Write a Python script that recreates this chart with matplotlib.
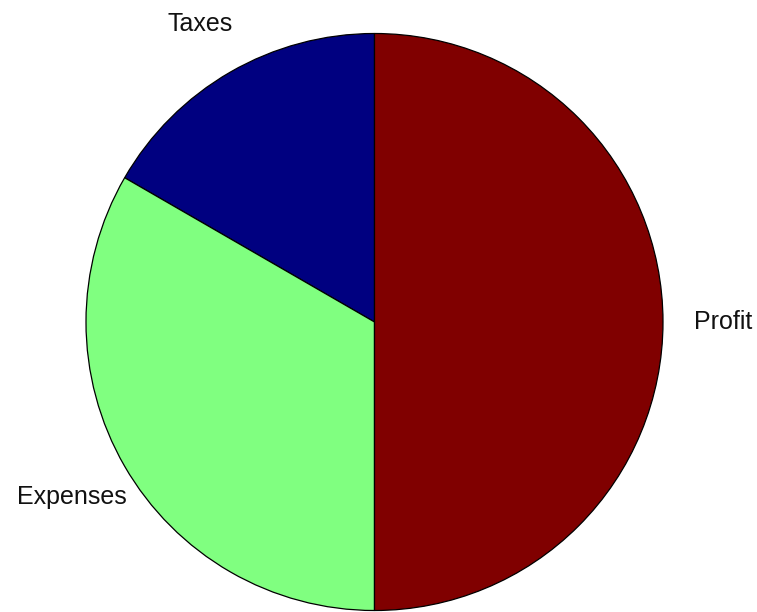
import matplotlib.pyplot as plt

labels = ['Taxes', 'Expenses', 'Profit']
values = [1, 2, 3]
colors = ['#000080', '#80ff80', '#800000']

fig = plt.figure(figsize=(7.57, 6.12), dpi=100)
fig.patch.set_facecolor('white')
ax = fig.add_axes([86 / 757, 1.5 / 612, 577 / 757, 577 / 612])

wedges, texts = ax.pie(values, labels=labels, colors=colors, startangle=90,
                       counterclock=True, labeldistance=1.21,
                       wedgeprops={'edgecolor': 'black', 'linewidth': 0.9},
                       textprops={'fontsize': 18, 'family': 'Liberation Sans', 'color': '#111111'})
for t in texts:
    t.set_ha('center')
    t.set_va('center')

# the top label sits a little lower in the original
x, y = texts[0].get_position()
texts[0].set_position((x, y - 0.015))

ax.set_xlim(-1, 1)
ax.set_ylim(-1, 1)
ax.axis('off')

plt.savefig('out.png', dpi=100)
